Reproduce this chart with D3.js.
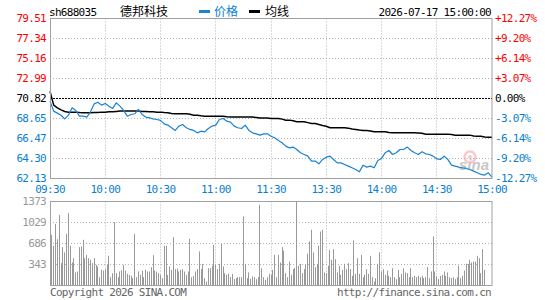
<!DOCTYPE html>
<html>
<head>
<meta charset="utf-8">
<script src="https://cdn.jsdelivr.net/npm/d3@7"></script>
<style>
body{margin:0;background:#fff;}
svg{display:block;}
text{font-family:"DejaVu Sans Mono",monospace;font-size:11px;letter-spacing:-0.7px;}
</style>
</head>
<body>
<svg id="chart" width="545" height="300"></svg>
<script>
// axis labels
var priceTicks = [79.51, 77.34, 75.16, 72.99, 70.82, 68.65, 66.47, 64.30, 62.13];
var priceLabels = ["79.51", "77.34", "75.16", "72.99", "70.82", "68.65", "66.47", "64.30", "62.13"];
var pctLabels = ["+12.27%", "+9.20%", "+6.14%", "+3.07%", "0.00%", "-3.07%", "-6.14%", "-9.20%", "-12.27%"];
var timeLabels = ["09:30", "10:00", "10:30", "11:00", "11:30", "13:30", "14:00", "14:30", "15:00"];
var volTicks = [1373, 1029, 686, 343];
var prevClose = 70.82;

// price + average, one point every 2 minutes (minute 0..240)
var prices = [70.53, 69.45, 69.23, 69.00, 68.61, 69.01, 69.81, 69.52, 68.90, 68.90,
  68.80, 69.37, 70.24, 70.42, 70.10, 70.28, 69.99, 69.74, 70.35, 69.99,
  69.52, 68.90, 69.08, 69.16, 69.63, 69.08, 68.80, 68.72, 68.61, 68.54,
  68.45, 68.07, 67.93, 67.64, 67.35, 67.82, 68.00, 67.64, 67.46, 67.35,
  67.09, 67.27, 67.20, 67.56, 67.82, 67.93, 68.54, 68.65, 68.36, 68.25,
  67.82, 67.64, 67.56, 67.93, 67.35, 67.09, 66.98, 66.84, 66.98, 66.98,
  66.72, 66.55, 66.26, 66.01, 65.65, 65.46, 65.54, 65.28, 64.92, 64.74,
  64.56, 64.02, 64.02, 63.73, 64.20, 64.45, 64.56, 64.20, 63.83, 63.83,
  63.65, 63.47, 63.29, 63.11, 62.86, 63.58, 63.36, 63.47, 63.29, 64.09,
  64.31, 64.92, 65.17, 64.74, 64.92, 65.28, 65.28, 65.54, 65.17, 64.92,
  64.74, 65.03, 64.81, 64.74, 64.56, 64.27, 64.20, 64.56, 64.20, 63.58,
  63.47, 63.36, 63.29, 63.22, 63.11, 62.93, 62.75, 62.57, 62.50, 62.75,
  62.28];
var avgPrices = [71.60, 70.10, 69.81, 69.59, 69.41, 69.34, 69.34, 69.34, 69.30, 69.27,
  69.27, 69.27, 69.30, 69.30, 69.34, 69.34, 69.37, 69.37, 69.41, 69.45,
  69.45, 69.45, 69.45, 69.45, 69.45, 69.41, 69.41, 69.37, 69.37, 69.34,
  69.34, 69.30, 69.27, 69.20, 69.16, 69.16, 69.16, 69.16, 69.10, 69.01,
  69.01, 68.94, 68.90, 68.90, 68.90, 68.90, 68.90, 68.90, 68.84, 68.80,
  68.80, 68.80, 68.80, 68.80, 68.80, 68.80, 68.76, 68.69, 68.69, 68.69,
  68.65, 68.65, 68.65, 68.58, 68.47, 68.47, 68.40, 68.29, 68.29, 68.29,
  68.20, 68.11, 68.11, 68.00, 67.89, 67.80, 67.64, 67.64, 67.64, 67.64,
  67.64, 67.60, 67.50, 67.46, 67.40, 67.35, 67.35, 67.30, 67.20, 67.20,
  67.20, 67.20, 67.12, 67.09, 67.09, 67.09, 67.09, 67.09, 67.09, 67.09,
  67.07, 67.05, 66.95, 66.95, 66.95, 66.95, 66.95, 66.95, 66.95, 66.92,
  66.84, 66.84, 66.84, 66.84, 66.84, 66.75, 66.73, 66.73, 66.65, 66.62,
  66.62];

// volume per minute (minute 0..240)
var volumes = [256, 828, 649, 1008, 758, 1155, 365, 627, 540, 845,
  1183, 649, 376, 447, 213, 229, 627, 638, 747, 447,
  501, 447, 420, 365, 447, 338, 311, 136, 256, 245,
  267, 338, 485, 136, 202, 1036, 202, 136, 229, 245,
  338, 245, 191, 174, 158, 120, 845, 136, 229, 174,
  245, 136, 256, 229, 229, 300, 496, 245, 229, 202,
  174, 120, 649, 649, 174, 311, 256, 790, 267, 278,
  229, 256, 267, 229, 174, 229, 763, 136, 158, 229,
  267, 556, 267, 354, 120, 65, 283, 283, 322, 665,
  338, 267, 354, 681, 311, 202, 174, 191, 136, 191,
  104, 120, 136, 136, 136, 1128, 354, 120, 213, 104,
  147, 136, 104, 136, 1319, 283, 136, 93, 136, 191,
  174, 256, 501, 136, 501, 376, 627, 572, 202, 136,
  392, 174, 267, 289, 1373, 322, 354, 202, 267, 338,
  518, 719, 910, 540, 300, 354, 649, 883, 910, 213,
  202, 322, 583, 420, 594, 431, 213, 322, 174, 256,
  354, 267, 365, 267, 158, 736, 191, 447, 191, 501,
  136, 174, 267, 191, 485, 136, 65, 120, 354, 540,
  229, 267, 174, 245, 158, 136, 283, 136, 104, 256,
  136, 191, 283, 213, 202, 136, 283, 136, 158, 136,
  158, 136, 158, 120, 136, 300, 120, 229, 801, 229,
  147, 104, 158, 174, 229, 158, 213, 136, 120, 136,
  104, 136, 322, 120, 158, 245, 354, 354, 420, 376,
  392, 392, 485, 447, 202, 594, 256, 0, 0, 0,
  0];

var red = "#ff0000", blue = "#0a80d0", lineBlue = "#1a82d2", frame = "#a0a0a0", dots = "#b4b4b4";
var svg = d3.select("#chart");

var x = d3.scaleLinear().domain([0, 240]).range([50, 492]);
var y = d3.scaleLinear().domain([62.13, 79.51]).range([178.5, 18.5]);
var yv = d3.scaleLinear().domain([0, 1373]).range([285.5, 201.5]);
var px = function(m){ return Math.floor(x(m)) + 0.5; };
var tickMinutes = timeLabels.map(function(t, i){ return i * 30; });

// grids
function vGrid(top, bottom){
	svg.append("g").selectAll("line").data(tickMinutes.slice(1, -1)).enter().append("line")
		.attr("x1", px).attr("x2", px).attr("y1", top).attr("y2", bottom)
		.attr("stroke", dots).attr("stroke-dasharray", "1,2");
}
vGrid(18.5, 178.5);
vGrid(201.5, 285.5);

svg.append("g").selectAll("line").data(priceTicks.slice(1, -1)).enter().append("line")
	.attr("x1", 50).attr("x2", 492)
	.attr("y1", function(d){ return Math.round(y(d) - 0.5) + 0.5; })
	.attr("y2", function(d){ return Math.round(y(d) - 0.5) + 0.5; })
	.attr("stroke", function(d){ return d == prevClose ? "#000" : dots; })
	.attr("stroke-dasharray", function(d){ return d == prevClose ? "2,1" : "1,2"; });

svg.append("g").selectAll("line").data(volTicks.slice(1)).enter().append("line")
	.attr("x1", 50).attr("x2", 492)
	.attr("y1", function(d){ return Math.round(yv(d) - 0.5) + 0.5; })
	.attr("y2", function(d){ return Math.round(yv(d) - 0.5) + 0.5; })
	.attr("stroke", dots).attr("stroke-dasharray", "1,2");

// volume bars
svg.append("g").selectAll("line").data(volumes).enter()
	.filter(function(d){ return d > 0; })
	.append("line")
	.attr("x1", function(d, i){ return px(i); })
	.attr("x2", function(d, i){ return px(i); })
	.attr("y1", yv(0)).attr("y2", function(d){ return yv(d); })
	.attr("stroke", "#999").attr("stroke-width", 1);

// sina watermark
var wm = svg.append("g").attr("opacity", 0.55);
wm.append("circle").attr("cx", 470).attr("cy", 157).attr("r", 5.5)
	.attr("fill", "none").attr("stroke", "#f4a0a0").attr("stroke-width", 2.5);
wm.append("circle").attr("cx", 470).attr("cy", 157).attr("r", 2).attr("fill", "#f4a0a0");
wm.append("text").attr("x", 474).attr("y", 170).attr("text-anchor", "middle")
	.style("font-family", "Liberation Sans, Arial, sans-serif").style("font-size", "15px")
	.style("font-weight", "bold").style("font-style", "italic").style("letter-spacing", "0")
	.attr("fill", "#9a9a9a").text("sina");

// lines
var mins = prices.map(function(d, i){ return i * 2; });
var line = d3.line().x(function(d, i){ return x(mins[i]); }).y(function(d){ return y(d); });
svg.append("path").datum(avgPrices).attr("d", line)
	.attr("fill", "none").attr("stroke", "#000").attr("stroke-width", 1.5);
svg.append("path").datum(prices).attr("d", line)
	.attr("fill", "none").attr("stroke", lineBlue).attr("stroke-width", 1.2).attr("stroke-linejoin", "round");

// frames
svg.append("rect").attr("x", 50.5).attr("y", 18.5).attr("width", 441.5).attr("height", 160)
	.attr("fill", "none").attr("stroke", frame);
svg.append("rect").attr("x", 50.5).attr("y", 201.5).attr("width", 441.5).attr("height", 84)
	.attr("fill", "none").attr("stroke", frame);

// price labels
function col(d){ return d > prevClose ? red : (d < prevClose ? blue : "#000"); }
svg.append("g").selectAll("text").data(priceTicks).enter().append("text")
	.attr("x", 46).attr("y", function(d){ return y(d); }).attr("dy", "0.35em")
	.attr("text-anchor", "end").attr("fill", col)
	.text(function(d, i){ return priceLabels[i]; });
svg.append("g").selectAll("text").data(priceTicks).enter().append("text")
	.attr("x", 495).attr("y", function(d){ return y(d); }).attr("dy", "0.35em")
	.attr("fill", col)
	.text(function(d, i){ return pctLabels[i]; });

// time labels
svg.append("g").selectAll("text").data(timeLabels).enter().append("text")
	.attr("x", function(d, i){ return x(tickMinutes[i]); }).attr("y", 192.5)
	.attr("text-anchor", "middle").attr("fill", blue).text(function(d){ return d; });

// volume labels
svg.append("g").selectAll("text").data(volTicks).enter().append("text")
	.attr("x", 46).attr("y", function(d){ return yv(d); }).attr("dy", "0.35em")
	.attr("text-anchor", "end").attr("fill", "#999").text(function(d){ return d; });

// header
svg.append("text").attr("x", 49).attr("y", 16).attr("fill", "#000").text("sh688035");
svg.append("text").attr("x", 120).attr("y", 16).attr("fill", "#000")
	.style("font-family", "Noto Sans CJK SC").style("font-size", "12px").style("letter-spacing", "0").text("德邦科技");
svg.append("rect").attr("x", 199).attr("y", 10).attr("width", 11).attr("height", 3).attr("fill", lineBlue);
svg.append("text").attr("x", 214).attr("y", 16).attr("fill", blue)
	.style("font-family", "Noto Sans CJK SC").style("font-size", "12px").style("letter-spacing", "0").text("价格");
svg.append("rect").attr("x", 249).attr("y", 10).attr("width", 11).attr("height", 3).attr("fill", "#000");
svg.append("text").attr("x", 265).attr("y", 16).attr("fill", "#000")
	.style("font-family", "Noto Sans CJK SC").style("font-size", "12px").style("letter-spacing", "0").text("均线");
svg.append("text").attr("x", 491).attr("y", 16).attr("text-anchor", "end").attr("fill", "#000").text("2026-07-17 15:00:00");

// footer
svg.append("text").attr("x", 50).attr("y", 296).attr("fill", "#666").text("Copyright 2026 SINA.COM");
svg.append("text").attr("x", 491).attr("y", 296).attr("text-anchor", "end").attr("fill", "#666").text("http://finance.sina.com.cn");
</script>
</body>
</html>
